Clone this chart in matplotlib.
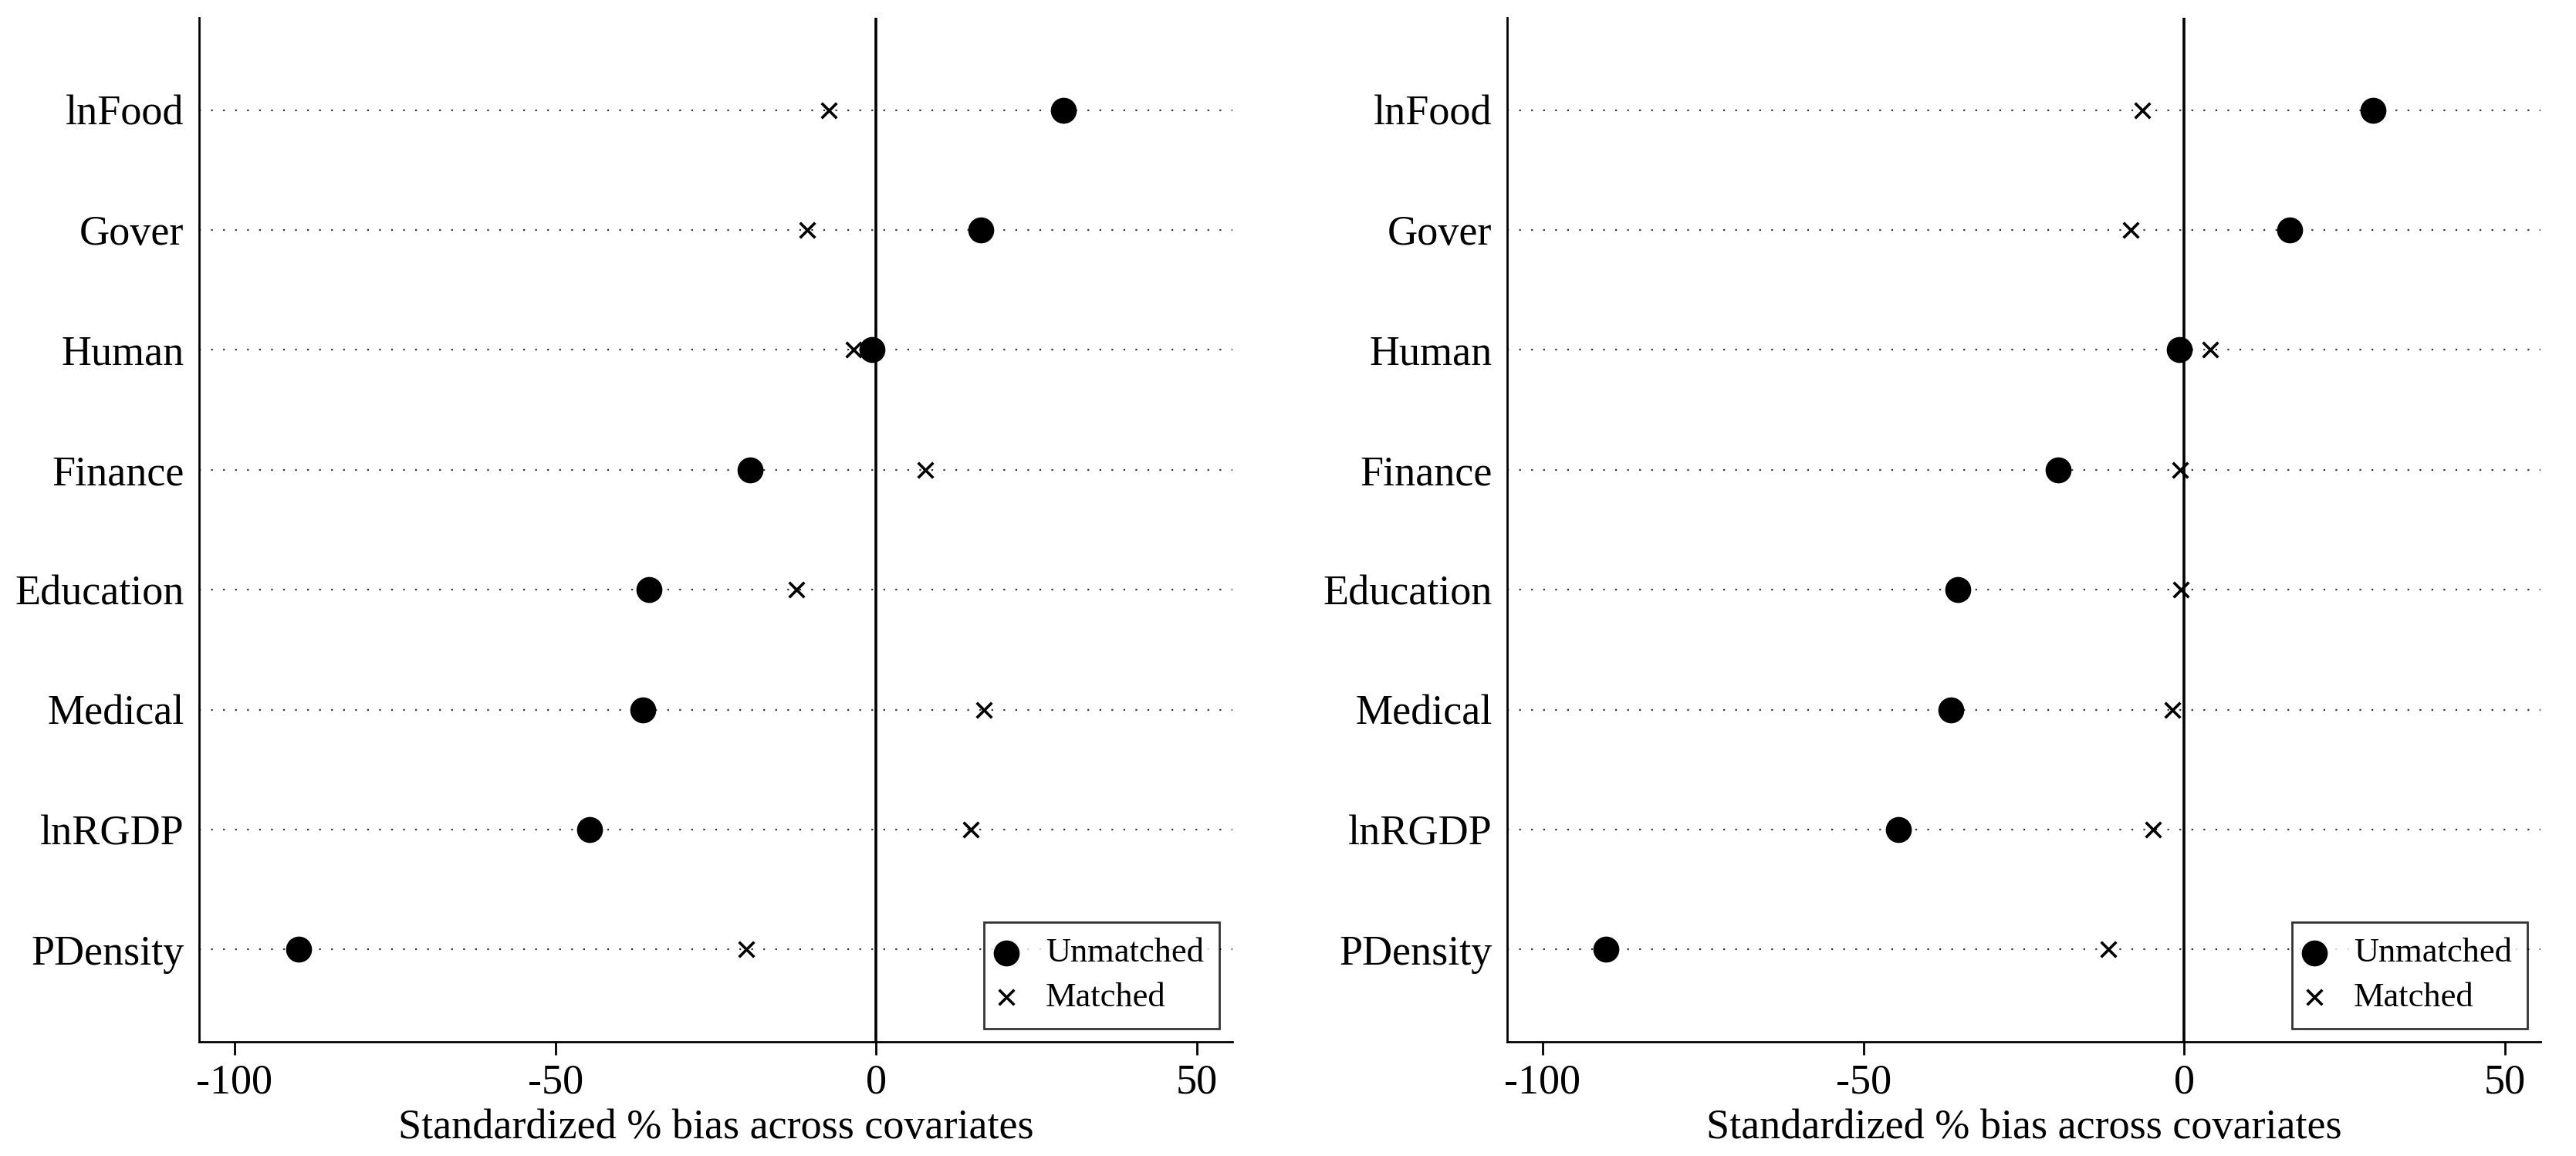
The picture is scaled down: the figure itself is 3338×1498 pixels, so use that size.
import matplotlib.pyplot as plt
import numpy as np

plt.rcParams['font.family'] = ['Liberation Serif', 'DejaVu Serif']

# covariates, listed from top to bottom
covariates = ["lnFood", "Gover", "Human", "Finance", "Education", "Medical", "lnRGDP", "PDensity"]

# standardized % bias, same order as covariates
unmatched_left = [29.2, 16.3, -0.6, -19.7, -35.4, -36.4, -44.6, -90.0]
matched_left = [-7.4, -10.8, -3.5, 7.7, -12.4, 16.8, 14.7, -20.3]

unmatched_right = [29.4, 16.4, -0.8, -19.6, -35.3, -36.4, -44.6, -90.1]
matched_right = [-6.5, -8.3, 4.0, -0.6, -0.5, -1.8, -4.9, -11.8]

xticks = [-100, -50, 0, 50]
xlabel = "Standardized % bias across covariates"

ypos = np.arange(len(covariates), 0, -1)


def bias_panel(ax, unmatched, matched):
    for y in ypos:
        ax.axhline(y, color='#333333', lw=1.6, ls=(0, (1, 6)), zorder=1)
    ax.axvline(0, color='black', lw=2.6, zorder=2)
    ax.scatter(unmatched, ypos, s=540, marker='o', color='black', zorder=4, label="Unmatched")
    ax.scatter(matched, ypos, s=200, marker='x', color='black', linewidths=2.6, zorder=3, label="Matched")

    ax.set_xlim(-105.5, 55.5)
    ax.set_ylim(0.23, 8.77)
    ax.set_xticks(xticks)
    ax.set_xticklabels([str(t) for t in xticks])
    ax.set_yticks(ypos)
    ax.set_yticklabels(covariates)
    ax.tick_params(axis='x', length=12, width=2, pad=8, labelsize=39)
    ax.tick_params(axis='y', length=0, pad=14, labelsize=39)
    ax.set_xlabel(xlabel, fontsize=39, labelpad=6)

    ax.spines['top'].set_visible(False)
    ax.spines['right'].set_visible(False)
    ax.spines['left'].set_linewidth(2)
    ax.spines['bottom'].set_linewidth(2)

    leg = ax.legend(loc='lower right', fontsize=32, frameon=True, fancybox=False,
                    borderaxespad=0.38, handlelength=0.4, handletextpad=0.95,
                    labelspacing=0.4, borderpad=0.45, scatterpoints=1)
    leg.get_frame().set_edgecolor('black')
    leg.get_frame().set_linewidth(2)


fig = plt.figure(figsize=(33.38, 14.98), dpi=100)
ax1 = fig.add_axes([0.0773, 0.0988, 0.4011, 0.8858])
bias_panel(ax1, unmatched_left, matched_left)
ax2 = fig.add_axes([0.5851, 0.0988, 0.4011, 0.8858])
bias_panel(ax2, unmatched_right, matched_right)

fig.savefig("out.png", dpi=100)
